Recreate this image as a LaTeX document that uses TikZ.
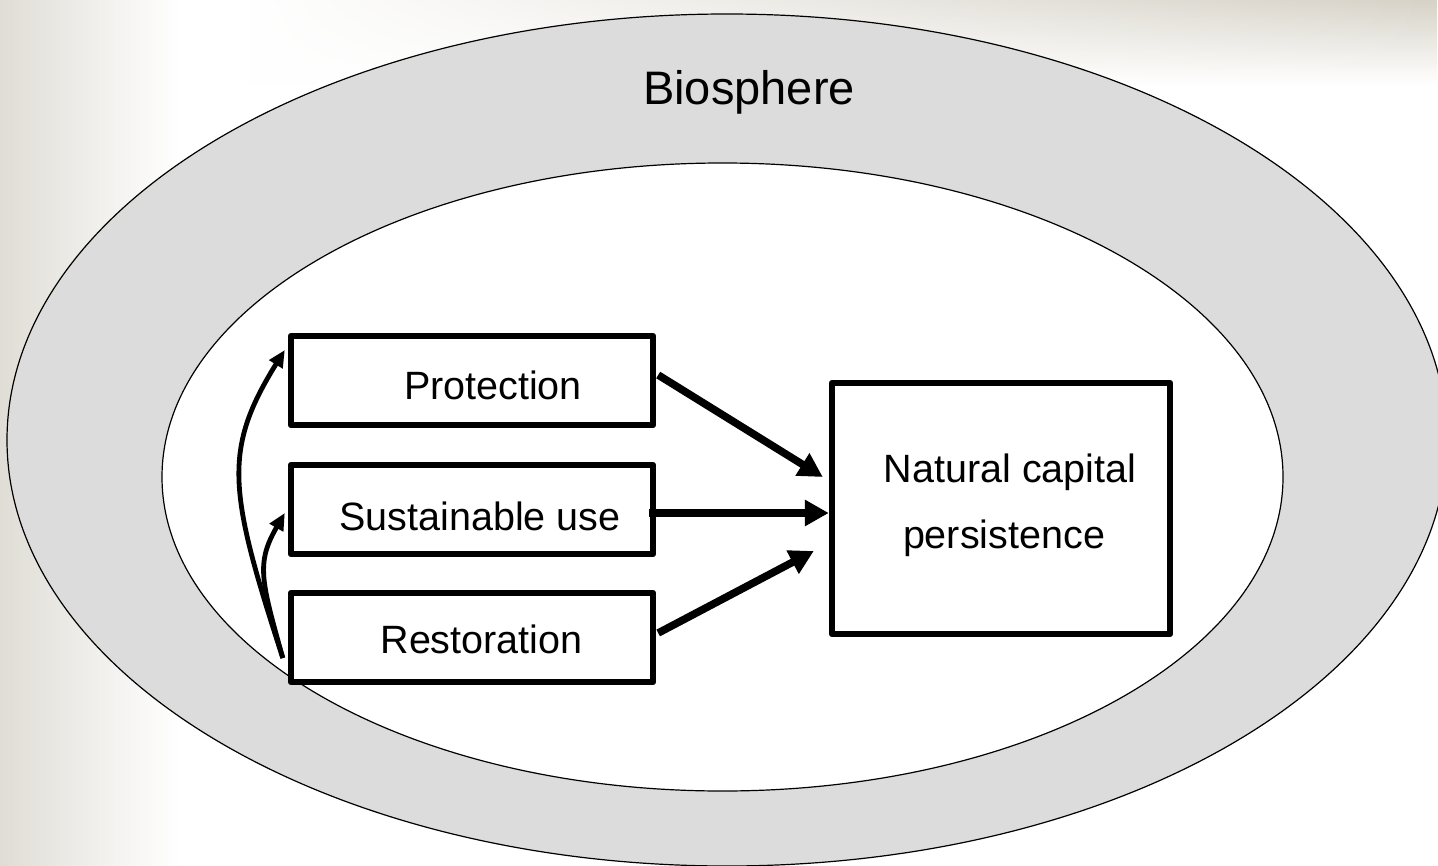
\documentclass[tikz,border=0pt]{standalone}
\usepackage{fontspec}
\setmainfont{Liberation Sans}
\usetikzlibrary{arrows.meta,calc,fadings}
\definecolor{bgbeige}{RGB}{224,221,214}
\definecolor{topbeige}{RGB}{214,210,199}
\definecolor{ringgray}{RGB}{220,220,220}
\tikzfading[name=fadeband, left color=transparent!100, right color=transparent!0]
\tikzset{
  boxnode/.style={draw=black, line width=3.2pt, fill=white, line join=round, inner sep=0pt},
  smallbox/.style={boxnode, minimum width=181pt, minimum height=44.5pt},
  txt/.style={font=\fontsize{19.75pt}{23pt}\selectfont, anchor=base, inner sep=0pt},
  bigtxt/.style={txt, font=\fontsize{23.5pt}{28pt}\selectfont},
  bigarrow/.style={line width=3.8pt, -{Triangle[length=12pt,width=12.5pt]}},
  smallarrow/.style={line width=2.4pt, -{Triangle[length=8.5pt,width=7.5pt]}},
  ringline/.style={draw=black, line width=0.6pt}
}
\begin{document}
\begin{tikzpicture}[x={(0.5pt,0)}, y={(0,-0.5pt)}]
\useasboundingbox (0,0) rectangle (1438,866);
% background
\fill[white] (0,0) rectangle (1438,866);
\shade[left color=bgbeige, right color=white] (0,0) rectangle (180,866);
\shade[top color=topbeige, bottom color=white, path fading=fadeband] (250,0) rectangle (1438,85);
% biosphere ellipses
\filldraw[ringline, fill=ringgray] (727,440) ellipse [x radius=360pt, y radius=213pt];
\filldraw[ringline, fill=white] (722.5,477) ellipse [x radius=280.25pt, y radius=157pt];
\node[bigtxt] (bioT) at (749,105) {Biosphere};
% boxes
\node[smallbox] (prot) at (472,380.5) {};
\node[smallbox] (sus) at (472,509.5) {};
\node[smallbox] (rest) at (472,637.5) {};
\node[boxnode, minimum width=169pt, minimum height=125.5pt] (nat) at (1001,508.5) {};
% texts
\node[txt] (protT) at (493,399.3) {Protection};
\node[txt] (susT) at (480,530) {Sustainable use};
\node[txt] (restT) at (481.5,653) {Restoration};
\node[txt] (natT1) at (1010,482) {Natural capital};
\node[txt] (natT2) at (1004,548) {persistence};
% arrows to natural capital
\draw[bigarrow] ($(prot.east)+(2,-5.5)$) -- ($(nat.west)+(-6,-31.5)$);
\draw[bigarrow] ($(sus.east)+(-7,3.5)$) -- ($(nat.west)+(0,4.5)$);
\draw[bigarrow] ($(rest.east)+(2,-4.5)$) -- ($(nat.west)+(-15,42.5)$);
% curved arrows from restoration
\draw[smallarrow] ($(rest.west)+(-5,20.5)$) .. controls (229,492) and (222,451) .. ($(prot.west)+(-3,-30.5)$);
\draw[smallarrow] ($(rest.west)+(-5,20.5)$) .. controls (261,580) and (256,563) .. ($(sus.west)+(-3,3.5)$);
\end{tikzpicture}
\end{document}
